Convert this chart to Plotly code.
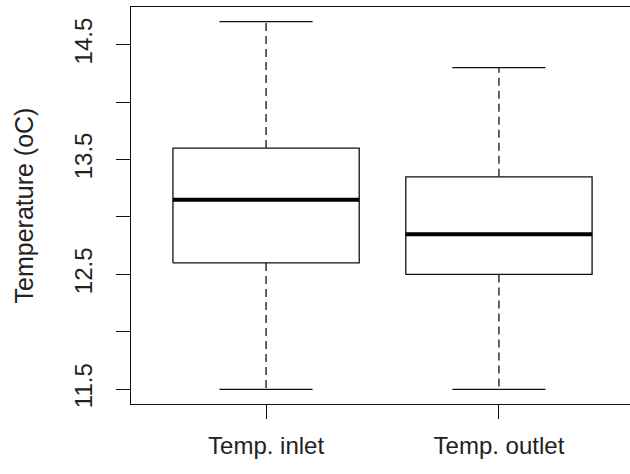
import plotly.graph_objects as go

categories = ["Temp. inlet", "Temp. outlet"]
lower_whisker = [11.5, 11.5]
q1 = [12.6, 12.5]
median = [13.15, 12.85]
q3 = [13.6, 13.35]
upper_whisker = [14.7, 14.3]

y_tickvals = [11.5, 12.0, 12.5, 13.0, 13.5, 14.0, 14.5]
y_ticktext = ["11.5", "", "12.5", "", "13.5", "", "14.5"]

BOX_HALF = 0.4
CAP_HALF = 0.2
LINE = "#111111"
FONT = "Liberation Sans, Arial, sans-serif"

fig = go.Figure()
for i, name in enumerate(categories):
    x = i + 1
    # dashed whiskers
    fig.add_trace(go.Scatter(x=[x, x], y=[q3[i], upper_whisker[i]], mode="lines",
                             line=dict(color=LINE, width=1.3, dash="8px,5px"), showlegend=False, hoverinfo="skip"))
    fig.add_trace(go.Scatter(x=[x, x], y=[q1[i], lower_whisker[i]], mode="lines",
                             line=dict(color=LINE, width=1.3, dash="8px,5px"), showlegend=False, hoverinfo="skip"))
    # caps
    for v in (lower_whisker[i], upper_whisker[i]):
        fig.add_trace(go.Scatter(x=[x - CAP_HALF, x + CAP_HALF], y=[v, v], mode="lines",
                                 line=dict(color=LINE, width=1.3), showlegend=False, hoverinfo="skip"))
    # box
    fig.add_trace(go.Scatter(x=[x - BOX_HALF, x + BOX_HALF, x + BOX_HALF, x - BOX_HALF, x - BOX_HALF],
                             y=[q1[i], q1[i], q3[i], q3[i], q1[i]], mode="lines",
                             line=dict(color=LINE, width=1.3), showlegend=False, name=name))
    # median
    fig.add_trace(go.Scatter(x=[x - BOX_HALF, x + BOX_HALF], y=[median[i], median[i]], mode="lines",
                             line=dict(color="#000000", width=4), showlegend=False, hoverinfo="skip"))

fig.update_layout(
    width=630, height=474,
    margin=dict(l=131, r=0, t=7, b=70),
    paper_bgcolor="white", plot_bgcolor="white",
    font=dict(family=FONT, size=24, color="#222222"),
    xaxis=dict(range=[0.42, 2.5628], tickmode="array", tickvals=[1, 2], ticktext=categories,
               showgrid=False, zeroline=False, showline=True, mirror=True, linecolor=LINE, linewidth=1.3,
               ticks="outside", ticklen=14, tickwidth=1.3, tickcolor=LINE, ticklabelstandoff=6),
    yaxis=dict(range=[11.372, 14.828], tickmode="array", tickvals=y_tickvals, ticktext=y_ticktext,
               tickangle=-90, showgrid=False, zeroline=False, showline=True, mirror=True,
               linecolor=LINE, linewidth=1.3, ticks="outside", ticklen=14, tickwidth=1.3, tickcolor=LINE,
               ticklabelstandoff=14,
               title=dict(text="Temperature (oC)", standoff=29, font=dict(family=FONT, size=25, color="#222222"))),
)

fig.write_html("out.html")
